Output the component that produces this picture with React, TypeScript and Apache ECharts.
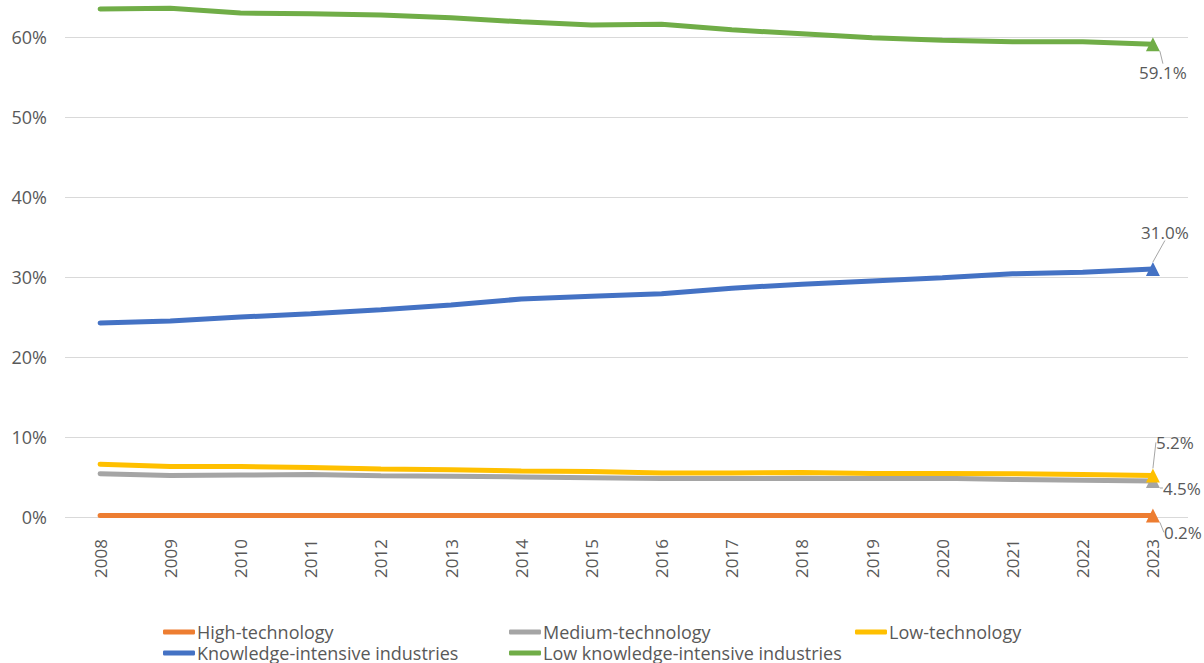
import React, { useEffect, useRef } from "react";
import * as echarts from "echarts";

const years = ["2008","2009","2010","2011","2012","2013","2014","2015","2016","2017","2018","2019","2020","2021","2022","2023"];
const highTech = [0.2,0.2,0.2,0.2,0.2,0.2,0.2,0.2,0.2,0.2,0.2,0.2,0.2,0.2,0.2,0.2];
const mediumTech = [5.4,5.2,5.25,5.3,5.15,5.1,5.0,4.9,4.8,4.8,4.85,4.8,4.85,4.7,4.6,4.5];
const lowTech = [6.6,6.3,6.3,6.2,6.0,5.9,5.75,5.7,5.5,5.5,5.55,5.45,5.45,5.4,5.3,5.2];
const knowledge = [24.25,24.5,25.0,25.4,25.9,26.5,27.25,27.6,27.9,28.6,29.1,29.5,29.9,30.4,30.6,31.0];
const lowKnowledge = [63.5,63.6,63.0,62.9,62.75,62.4,61.9,61.5,61.6,60.9,60.4,59.9,59.6,59.4,59.4,59.1];
const yTicks = [0, 10, 20, 30, 40, 50, 60];

const FONT = "'Open Sans', sans-serif";
const TXT = "#595959";
const SHIFT = 43;

function mk(name: string, color: string, values: number[], dx: number, dy: number, z: number) {
  const last = values.length - 1;
  return {
    name,
    type: "line",
    z,
    symbol: "none",
    lineStyle: { width: 5, color, cap: "round" },
    itemStyle: { color },
    data: values.map((v, i) =>
      i === last
        ? {
            value: v,
            symbol: "triangle",
            symbolSize: 14,
            label: {
              show: true,
              position: "inside",
              formatter: (p: any) => p.value.toFixed(1) + "%",
              color: TXT,
              fontSize: 17,
              fontFamily: FONT,
            },
            labelLine: { show: true, lineStyle: { color: "#a6a6a6", width: 1 } },
          }
        : v
    ),
    labelLayout: { dx, dy },
  };
}

function legendCol(left: number, names: string[]) {
  return {
    left,
    top: 618 + SHIFT,
    height: 80,
    orient: "vertical",
    itemGap: 3,
    itemWidth: 32,
    itemHeight: 5,
    icon: "roundRect",
    textStyle: { color: TXT, fontSize: 18, lineHeight: 18, fontFamily: FONT, padding: [0, 0, 0, -3] },
    data: names,
  };
}

export default function App() {
  const ref = useRef<HTMLDivElement>(null);
  useEffect(() => {
    const chart = echarts.init(ref.current!, undefined, { renderer: "svg" });
    chart.setOption({
      animation: false,
      backgroundColor: "#ffffff",
      grid: {
        left: 65,
        right: 16,
        top: 0,
        bottom: 760 - (517 + SHIFT),
        containLabel: false,
        outerBoundsMode: "none",
      },
      xAxis: {
        type: "category",
        data: years,
        boundaryGap: true,
        axisLine: { show: false },
        axisTick: { show: false },
        axisLabel: { rotate: 90, margin: 22, color: TXT, fontSize: 17, fontFamily: FONT },
      },
      yAxis: {
        type: "value",
        min: 0,
        max: 70,
        interval: 10,
        axisLabel: {
          formatter: (v: number) => (yTicks.indexOf(v) >= 0 ? v + "%" : ""),
          color: TXT,
          fontSize: 18,
          fontFamily: FONT,
          margin: 18,
        },
        splitLine: { lineStyle: { color: "#d9d9d9", width: 1 } },
      },
      legend: [
        legendCol(158, ["High-technology", "Knowledge-intensive industries"]),
        legendCol(504, ["Medium-technology", "Low knowledge-intensive industries"]),
        legendCol(850, ["Low-technology"]),
      ],
      series: [
        mk("High-technology", "#ED7D31", highTech, 30, 17, 2),
        mk("Medium-technology", "#A5A5A5", mediumTech, 29, 7, 3),
        mk("Low-technology", "#FFC000", lowTech, 22, -33, 4),
        mk("Knowledge-intensive industries", "#4472C4", knowledge, 12, -37, 5),
        mk("Low knowledge-intensive industries", "#70AD47", lowKnowledge, 10, 28, 6),
      ],
    });
    return () => chart.dispose();
  }, []);
  return <div ref={ref} style={{ position: "fixed", left: 0, top: -SHIFT, width: 1204, height: 760 }} />;
}
